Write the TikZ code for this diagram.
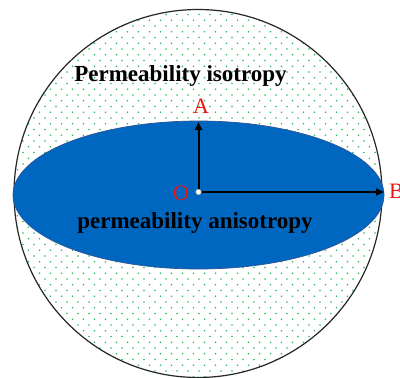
\documentclass[tikz,border=0pt]{standalone}
\usepackage{fontspec}
\setmainfont{Liberation Serif}
\usetikzlibrary{arrows.meta}
\definecolor{dotgreen}{RGB}{40,190,95}
\definecolor{ellblue}{RGB}{0,103,192}
\definecolor{ellline}{RGB}{45,82,150}
\definecolor{lblred}{RGB}{240,20,20}
\tikzset{
  axisarrow/.style={line width=2pt, -{Triangle[length=8pt,width=7pt]}},
  bigtxt/.style={font=\fontsize{23}{27}\selectfont\bfseries, inner sep=0pt, anchor=base},
  redtxt/.style={text=lblred, font=\fontsize{22}{26}\selectfont, inner sep=0pt, anchor=base},
  origin/.style={circle, draw=gray!70, fill=white, line width=0.6pt, minimum size=5.5pt, inner sep=0pt}
}
\begin{document}
\begin{tikzpicture}[x=1pt,y=-1pt]
\useasboundingbox (0,0) rectangle (400,378);
\fill[white] (0,0) rectangle (400,378);
% dotted background inside circle
\begin{scope}
  \clip (198,193.5) circle (184);
  \foreach \r in {0,...,66}{
    \pgfmathsetmacro{\yy}{3+5.75*\r}
    \pgfmathsetmacro{\off}{mod(\r,2)*5.5}
    \foreach \c in {0,...,36}{
      \fill[dotgreen] ({1+\off+11*\c},\yy) circle (0.9);
    }
  }
\end{scope}
\draw[line width=1.2pt, black!85] (198,193.5) circle (184);
% ellipse
\fill[ellblue, draw=ellline, line width=0.7pt] (198.5,195) ellipse [x radius=185.5, y radius=74];
% axes
\coordinate (Oc) at (198.5,192);
\coordinate (Atip) at (198.5,122);
\coordinate (Btip) at (384,192);
\draw[axisarrow] (Oc) -- (Atip);
\draw[axisarrow] (Oc) -- (Btip);
\node[origin] (O) at (Oc) {};
% labels
\node[redtxt] (la) at (201,113) {A};
\node[redtxt] (lo) at (181,200) {O};
\node[redtxt, anchor=base west] (lb) at (389,198) {B};
\node[bigtxt] (iso) at (180.5,81.5) {Permeability isotropy};
\node[bigtxt] (aniso) at (195,228) {permeability anisotropy};
\end{tikzpicture}
\end{document}
